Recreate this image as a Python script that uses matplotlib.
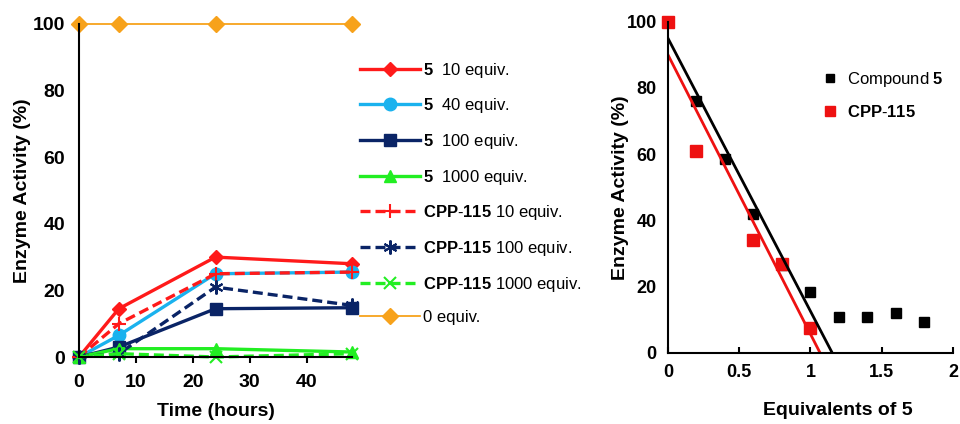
import matplotlib
matplotlib.use("Agg")
import matplotlib.pyplot as plt
import numpy as np

plt.rcParams['font.family'] = ['Liberation Sans', 'DejaVu Sans']
plt.rcParams['mathtext.fontset'] = 'custom'
plt.rcParams['mathtext.rm'] = 'Liberation Sans'
plt.rcParams['mathtext.bf'] = 'Liberation Sans:bold'

# ---- Left panel data ----
time_h = [0, 7, 24, 48]
c5_10 = [0, 14.5, 30, 28]
c5_40 = [0, 6.5, 25, 25.5]
c5_100 = [0, 3, 14.5, 14.8]
c5_1000 = [0, 2.5, 2.5, 1.5]
cpp_10 = [0, 10, 25, 25.5]
cpp_100 = [0, 1, 21, 15.5]
cpp_1000 = [0, 1, 0, 1]
zero_eq = [100, 100, 100, 100]

left_labels = [r"$\mathbf{5}$  10 equiv.", r"$\mathbf{5}$  40 equiv.",
               r"$\mathbf{5}$  100 equiv.", r"$\mathbf{5}$  1000 equiv.",
               r"$\mathbf{CPP}$-$\mathbf{115}$ 10 equiv.",
               r"$\mathbf{CPP}$-$\mathbf{115}$ 100 equiv.",
               r"$\mathbf{CPP}$-$\mathbf{115}$ 1000 equiv.",
               "0 equiv."]

# ---- Right panel data ----
eq_c5 = [0.2, 0.4, 0.6, 0.8, 1.0, 1.2, 1.4, 1.6, 1.8]
act_c5 = [76, 58.5, 42, 26.5, 18.5, 11, 11, 12, 9.5]
eq_cpp = [0, 0.2, 0.6, 0.8, 1.0]
act_cpp = [100, 61, 34, 27, 7.5]
fit_c5 = (-82.4, 95.0)    # slope, intercept
fit_cpp = (-84.3, 90.0)

fig = plt.figure(figsize=(9.6, 4.24), dpi=100)
ax1 = fig.add_axes([0.0823, 0.158, 0.2844, 0.7854])
ax2 = fig.add_axes([0.6958, 0.1675, 0.2969, 0.7813])

red = '#ff1a1a'
lblue = '#1ab2ee'
navy = '#0a2466'
green = '#22ee22'
orange = '#f7a21b'

lw = 2.4
h = []
h += ax1.plot(time_h, c5_10, color=red, lw=lw, marker='D', ms=7, clip_on=False)
h += ax1.plot(time_h, c5_40, color=lblue, lw=lw, marker='o', ms=9, clip_on=False)
h += ax1.plot(time_h, c5_100, color=navy, lw=lw, marker='s', ms=9, clip_on=False)
h += ax1.plot(time_h, c5_1000, color=green, lw=lw, marker='^', ms=9, clip_on=False)
h += ax1.plot(time_h, cpp_10, color=red, lw=lw, ls=(0, (3, 1.5)), marker='+', ms=10, mew=1.5, clip_on=False)
h += ax1.plot(time_h, cpp_100, color=navy, lw=lw, ls=(0, (3, 1.5)), marker=(6, 2, 0), ms=10, mew=1.5, clip_on=False)
h += ax1.plot(time_h, cpp_1000, color=green, lw=lw, ls=(0, (3, 1.5)), marker='x', ms=9, mew=1.5, clip_on=False)
h += ax1.plot(time_h, zero_eq, color=orange, lw=1.3, marker='D', ms=8, clip_on=False)

ax1.set_xlim(0, 48)
ax1.set_ylim(0, 100)
ax1.set_xticks([0, 10, 20, 30, 40])
ax1.set_yticks([0, 20, 40, 60, 80, 100])
for s in ['top', 'right']:
    ax1.spines[s].set_visible(False)
for s in ['left', 'bottom']:
    ax1.spines[s].set_linewidth(1.5)
ax1.tick_params(axis='y', length=0, pad=10, labelsize=14)
ax1.tick_params(axis='x', length=4, width=1.5, direction='out', pad=8, labelsize=14)
for t in ax1.get_xticklabels() + ax1.get_yticklabels():
    t.set_fontweight('bold')
ax1.set_xlabel("Time (hours)", fontsize=14, fontweight='bold')
ax1.set_ylabel("Enzyme Activity (%)", fontsize=14, fontweight='bold')
ax1.xaxis.set_label_coords(0.5, -0.138)
ax1.yaxis.set_label_coords(-0.177, 0.5)

leg = ax1.legend(h, left_labels, loc='upper left', bbox_to_anchor=(1.005, 0.91),
                 frameon=False, fontsize=12, handlelength=3.6, handletextpad=0.2,
                 labelspacing=1.0, borderaxespad=0)

# right panel
ax2.plot(eq_c5, act_c5, ls='none', marker='s', ms=7, color='black', clip_on=False,
         label=r"Compound $\mathbf{5}$")
ax2.plot(eq_cpp, act_cpp, ls='none', marker='s', ms=8, color='#ee1111', clip_on=False,
         label=r"$\mathbf{CPP}$-$\mathbf{115}$")
xb = np.array([0, -fit_c5[1] / fit_c5[0]])
ax2.plot(xb, fit_c5[0] * xb + fit_c5[1], color='black', lw=2)
xr = np.array([0, -fit_cpp[1] / fit_cpp[0]])
ax2.plot(xr, fit_cpp[0] * xr + fit_cpp[1], color='#ee1111', lw=2)

ax2.set_xlim(0, 2)
ax2.set_ylim(0, 100)
ax2.set_xticks([0, 0.5, 1, 1.5, 2])
ax2.set_xticklabels(['0', '0.5', '1', '1.5', '2'])
ax2.set_yticks([0, 20, 40, 60, 80, 100])
for s in ['top', 'right']:
    ax2.spines[s].set_visible(False)
for s in ['left', 'bottom']:
    ax2.spines[s].set_linewidth(1.5)
ax2.tick_params(axis='y', length=0, pad=8, labelsize=13)
ax2.tick_params(axis='x', length=4, width=1.5, direction='in', pad=8, labelsize=13)
for t in ax2.get_xticklabels() + ax2.get_yticklabels():
    t.set_fontweight('bold')
ax2.set_xlabel("Equivalents of 5", fontsize=14, fontweight='bold')
ax2.set_ylabel("Enzyme Activity (%)", fontsize=14, fontweight='bold')
ax2.xaxis.set_label_coords(0.595, -0.148)
ax2.yaxis.set_label_coords(-0.137, 0.5)
ax2.legend(loc='upper left', bbox_to_anchor=(0.522, 0.875), frameon=False, fontsize=12,
           handlelength=0.8, handletextpad=0.6, labelspacing=0.9, markerscale=0.9,
           borderaxespad=0)

fig.savefig("out.png", dpi=100)
